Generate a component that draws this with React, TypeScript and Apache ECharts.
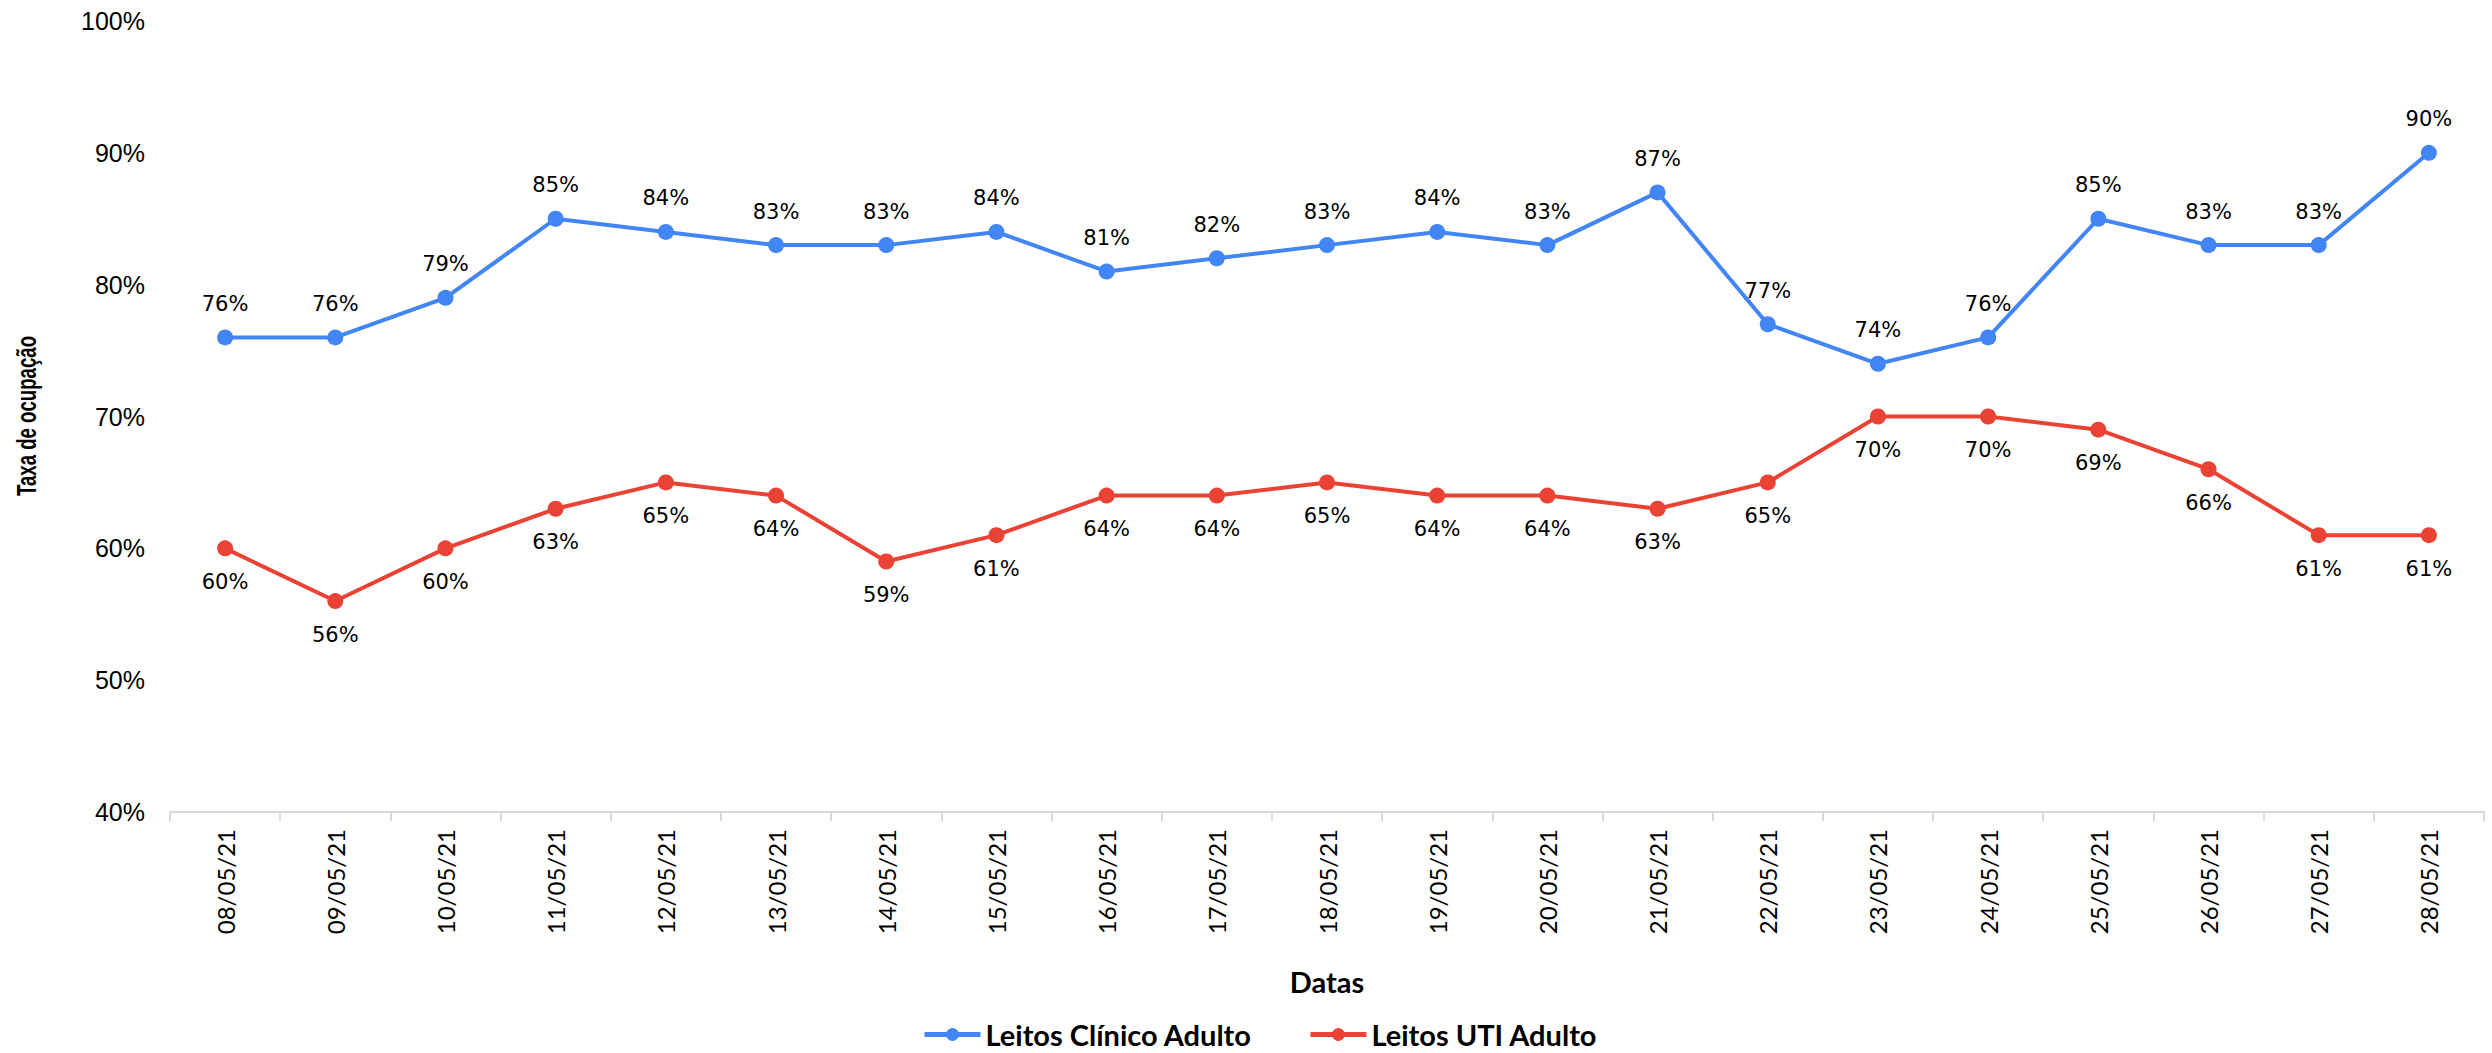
import React, { useEffect, useRef } from "react";
import * as echarts from "echarts";

const dates = [
  "08/05/21", "09/05/21", "10/05/21", "11/05/21", "12/05/21", "13/05/21", "14/05/21",
  "15/05/21", "16/05/21", "17/05/21", "18/05/21", "19/05/21", "20/05/21", "21/05/21",
  "22/05/21", "23/05/21", "24/05/21", "25/05/21", "26/05/21", "27/05/21", "28/05/21",
];
const clinicoAdulto = [76, 76, 79, 85, 84, 83, 83, 84, 81, 82, 83, 84, 83, 87, 77, 74, 76, 85, 83, 83, 90];
const utiAdulto = [60, 56, 60, 63, 65, 64, 59, 61, 64, 64, 65, 64, 64, 63, 65, 70, 70, 69, 66, 61, 61];
const yTicks = { min: 40, max: 100, interval: 10 };
const yTitle = "Taxa de ocupação";

const BLUE = "#4285F4";
const RED = "#EA4335";

export default function App() {
  const ref = useRef<HTMLDivElement>(null);
  useEffect(() => {
    if (!ref.current) return;
    const chart = echarts.init(ref.current, null, { renderer: "svg" });
    const labelStyle = {
      show: true,
      formatter: "{c}%",
      fontFamily: "'DejaVu Sans', Verdana, sans-serif",
      fontSize: 21,
      color: "#000",
      distance: 15,
    };
    chart.setOption({
      animation: false,
      backgroundColor: "#fff",
      grid: { left: 170, right: 8, top: 21, bottom: 241 },
      graphic: [
        {
          type: "text",
          x: 27,
          y: 416,
          rotation: Math.PI / 2,
          scaleX: 0.69,
          style: {
            text: yTitle,
            fontFamily: "'Liberation Sans', Arial, sans-serif",
            fontWeight: "bold",
            fontSize: 27,
            fill: "#000",
            align: "center",
            verticalAlign: "middle",
          },
        },
      ],
      legend: {
        left: 922,
        top: 1020,
        itemWidth: 56,
        itemHeight: 16,
        itemGap: 56,
        padding: 0,
        lineStyle: { width: 5 },
        textStyle: {
          fontFamily: "Lato, 'Open Sans', sans-serif",
          fontWeight: "bold",
          fontSize: 29,
          color: "#000",
        },
        data: ["Leitos Clínico Adulto", "Leitos UTI Adulto"],
      },
      xAxis: {
        type: "category",
        data: dates,
        boundaryGap: true,
        name: "Datas",
        nameLocation: "middle",
        nameGap: 155,
        nameTextStyle: {
          fontFamily: "Lato, 'Open Sans', sans-serif",
          fontWeight: "bold",
          fontSize: 29,
          color: "#000",
        },
        axisLine: { show: true, lineStyle: { color: "#d9d9d9", width: 2 } },
        axisTick: { show: true, alignWithLabel: false, length: 9, lineStyle: { color: "#d9d9d9", width: 2 } },
        axisLabel: {
          rotate: 90,
          margin: 17,
          fontFamily: "Lato, 'Open Sans', sans-serif",
          fontSize: 24,
          color: "#000",
        },
        splitLine: { show: false },
      },
      yAxis: {
        type: "value",
        min: yTicks.min,
        max: yTicks.max,
        interval: yTicks.interval,
        axisLine: { show: false },
        axisTick: { show: false },
        splitLine: { show: false },
        axisLabel: {
          formatter: "{value}%",
          margin: 25,
          fontFamily: "'Liberation Sans', Arial, sans-serif",
          fontSize: 25,
          color: "#000",
        },
      },
      series: [
        {
          name: "Leitos Clínico Adulto",
          type: "line",
          data: clinicoAdulto,
          symbol: "circle",
          symbolSize: 16,
          itemStyle: { color: BLUE },
          lineStyle: { color: BLUE, width: 4 },
          label: { ...labelStyle, position: "top" },
        },
        {
          name: "Leitos UTI Adulto",
          type: "line",
          data: utiAdulto,
          symbol: "circle",
          symbolSize: 16,
          itemStyle: { color: RED },
          lineStyle: { color: RED, width: 4 },
          label: { ...labelStyle, position: "bottom" },
        },
      ],
    });
    return () => chart.dispose();
  }, []);
  return (
    <div
      ref={ref}
      style={{ position: "fixed", left: 0, top: 0, width: 2492, height: 1053, background: "#fff" }}
    />
  );
}
